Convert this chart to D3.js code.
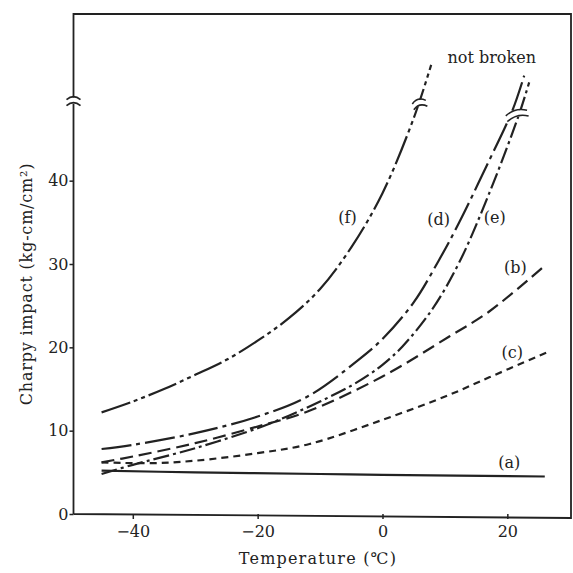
<!DOCTYPE html>
<html>
<head>
<meta charset="utf-8">
<script src="https://cdn.jsdelivr.net/npm/d3@7"></script>
<style>
  body { margin: 0; background: #fff; }
  text { font-family: "DejaVu Serif", "Liberation Serif", serif; fill: #222; }
</style>
</head>
<body>
<div class="chart"></div>
<script>
// temperature (deg C) vs Charpy impact (kg-cm/cm2)
var curveA = [[-45, 5.2], [-30, 5.0], [-10, 4.8], [0, 4.7], [26, 4.5]];
var curveB = [[-45, 6.2], [-40, 6.9], [-30, 8.5], [-20, 10.5], [-12, 12.3], [0, 16.5], [10.7, 21.3], [17.1, 24.3], [26, 29.8]];
var curveC = [[-45, 6.2], [-37, 6.1], [-30, 6.4], [-20, 7.3], [-11.7, 8.4], [0, 11.3], [10.7, 14.3], [17.1, 16.4], [26.4, 19.4]];
var curveD = [[-45, 7.8], [-40, 8.3], [-30, 9.7], [-20, 11.7], [-12, 14.1], [-4, 18.4], [0, 21], [5, 25.4], [9, 30.4], [12.3, 35], [16.5, 41.5], [20.8, 48.4], [22.7, 52.6]];
var curveE = [[-45, 4.8], [-40, 5.9], [-30, 7.9], [-20, 10.3], [-15, 11.8], [-10, 13.5], [-5, 15.4], [-2, 16.8], [0, 17.9], [3.2, 20.1], [8, 24.6], [12.3, 30.2], [17, 38.3], [21.9, 48], [23.5, 51.8]];
var curveF = [[-45, 12.2], [-40, 13.5], [-35, 15.0], [-30, 16.7], [-25, 18.5], [-20, 20.8], [-15, 23.5], [-10, 27.0], [-5, 32.0], [0, 38.5], [5, 47.5], [7.8, 53.9]];

var seriesNames = ["(a)", "(b)", "(c)", "(d)", "(e)", "(f)"];
var xTicks = [-40, -20, 0, 20];
var yTicks = [0, 10, 20, 30, 40];

var svgWidth = 573;
var svgHeight = 573;

var svg = d3.select(".chart")
    .append("svg")
    .attr("width", svgWidth)
    .attr("height", svgHeight);

// scales (plot frame runs from x=73.5 to 571, y=514 to 14)
var xScale = d3.scaleLinear().domain([-49.5, 30.2]).range([73.5, 571]);
var yScale = d3.scaleLinear().domain([0, 60]).range([514, 14]);

var line = d3.line()
    .x(d => xScale(d[0]))
    .y(d => yScale(d[1]))
    .curve(d3.curveCatmullRom.alpha(0.5));

var series = [
    { name: seriesNames[0], data: curveA, dash: null,           label: [20.3, 5.5] },
    { name: seriesNames[1], data: curveB, dash: "13,6",         label: [21.3, 28.9] },
    { name: seriesNames[2], data: curveC, dash: "7,5",          label: [20.8, 18.7] },
    { name: seriesNames[3], data: curveD, dash: "30,5,4,5",     label: [9.0, 34.7] },
    { name: seriesNames[4], data: curveE, dash: "16,4,3,4",     label: [18.0, 34.9] },
    { name: seriesNames[5], data: curveF, dash: "30,4,4,4,4,4", label: [-5.6, 34.9] }
];

// frame
var frame = svg.append("g")
    .attr("fill", "none")
    .attr("stroke", "#222")
    .attr("stroke-width", 1.8);

frame.append("path")
    .attr("d", `M${xScale(-49.5)},${yScale(0)} L${xScale(-49.5)},${yScale(60)} L${xScale(30.2)},${yScale(60)} L${xScale(30.2)},${yScale(0) + 4} L${xScale(-49.5)},${yScale(0)}`);

// x axis
var bottomAxis = d3.axisBottom(xScale)
    .tickValues(xTicks)
    .tickSize(5)
    .tickFormat(d => d < 0 ? "\u2212" + Math.abs(d) : d);

var xAxis = svg.append("g")
    .attr("transform", `translate(0, ${yScale(0)})`)
    .call(bottomAxis);
xAxis.select(".domain").remove();
xAxis.selectAll("line").attr("stroke", "#222").attr("stroke-width", 1.5);
xAxis.selectAll("text")
    .attr("font-family", "DejaVu Serif")
    .attr("font-size", 16)
    .attr("dy", "0.95em")
    .attr("fill", "#222");

// y axis
var leftAxis = d3.axisLeft(yScale)
    .tickValues(yTicks)
    .tickSize(4);

var yAxis = svg.append("g")
    .attr("transform", `translate(${xScale(-49.5)}, 0)`)
    .call(leftAxis);
yAxis.select(".domain").remove();
yAxis.selectAll("line").attr("stroke", "#222").attr("stroke-width", 1.5);
yAxis.selectAll("text")
    .attr("font-family", "DejaVu Serif")
    .attr("font-size", 16)
    .attr("x", -5)
    .attr("fill", "#222");

// axis titles
svg.append("text")
    .attr("x", 318)
    .attr("y", 564)
    .attr("text-anchor", "middle")
    .attr("font-size", 16)
    .attr("letter-spacing", 1.2)
    .text("Temperature (\u2103)");

svg.append("text")
    .attr("transform", "translate(32, 284) rotate(-90)")
    .attr("text-anchor", "middle")
    .attr("font-size", 16)
    .attr("letter-spacing", 0.8)
    .text("Charpy impact  (kg-cm/cm\u00B2)");

// curves
svg.append("g")
    .selectAll("path")
    .data(series)
    .enter()
    .append("path")
    .attr("d", d => line(d.data))
    .attr("fill", "none")
    .attr("stroke", "#222")
    .attr("stroke-width", 2.2)
    .attr("stroke-dasharray", d => d.dash);

// curve labels
svg.append("g")
    .selectAll("text")
    .data(series)
    .enter()
    .append("text")
    .attr("x", d => xScale(d.label[0]))
    .attr("y", d => yScale(d.label[1]))
    .attr("text-anchor", "middle")
    .attr("font-size", 16)
    .text(d => d.name);

svg.append("text")
    .attr("x", xScale(17.5))
    .attr("y", yScale(54.1))
    .attr("text-anchor", "middle")
    .attr("font-size", 16)
    .text("not broken");

// scale break marks: on the y axis and on the curves that go off the scale
var breaks = [
    { at: [-49.5, 49.6], w: 7,  tilt: 0 },
    { at: [5.9, 49.3],   w: 7,  tilt: -15 },
    { at: [21.5, 48.0],  w: 11, tilt: -15 }
];

var breakG = svg.append("g")
    .selectAll("g")
    .data(breaks)
    .enter()
    .append("g")
    .attr("transform", d => `translate(${xScale(d.at[0])}, ${yScale(d.at[1])}) rotate(${d.tilt})`);

breakG.append("rect")
    .attr("x", d => -d.w - 1)
    .attr("y", -3)
    .attr("width", d => 2 * d.w + 2)
    .attr("height", 6)
    .attr("fill", "#fff");

breakG.append("path")
    .attr("d", d => `M${-d.w},-1 Q0,-7 ${d.w},-1 M${-d.w},5 Q0,-1 ${d.w},5`)
    .attr("fill", "none")
    .attr("stroke", "#222")
    .attr("stroke-width", 1.6);
</script>
</body>
</html>
